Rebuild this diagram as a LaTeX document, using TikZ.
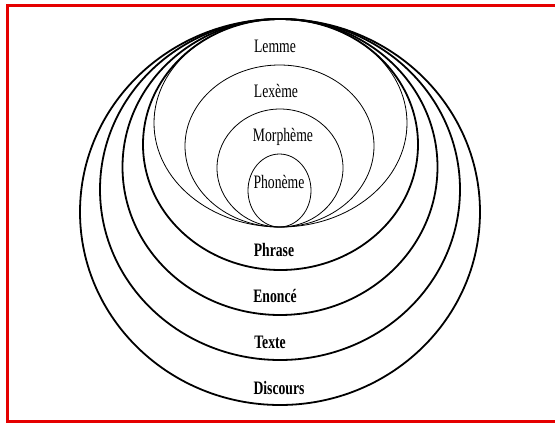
\documentclass[tikz,border=0pt]{standalone}
\usepackage{fontspec}
\setmainfont{Liberation Serif}[FakeStretch=0.72]
\usepackage{tikz}
\usetikzlibrary{positioning}

\begin{document}
\begin{tikzpicture}[x=1pt, y=-1pt,
    every node/.style={inner sep=1pt, font=\fontsize{19}{22}\selectfont},
    thinring/.style={line width=0.8pt},
    thickring/.style={line width=1.8pt},
    outerlbl/.style={font=\fontsize{19}{22}\selectfont\bfseries}]
  \useasboundingbox (0,0) rectangle (555,424);
  % frame (open on the right)
  \draw[red!90!black, line width=3pt] (555,5) -- (7.5,5) -- (7.5,421.5) -- (555,421.5);
  % outer rings
  \draw[thickring] (280,212) ellipse [x radius=200, y radius=193];
  \draw[thickring] (280,189.5) ellipse [x radius=180, y radius=170.5];
  \draw[thickring] (280,167) ellipse [x radius=157.5, y radius=148];
  \draw[thickring] (280.5,144.5) ellipse [x radius=137.5, y radius=125.5];
  % inner rings
  \draw[thinring] (280.5,123) ellipse [x radius=126.5, y radius=104];
  \draw[thinring] (279.5,146) ellipse [x radius=94.5, y radius=81];
  \draw[thinring] (280,168) ellipse [x radius=63, y radius=59];
  \draw[thinring] (279.5,190.5) ellipse [x radius=31.5, y radius=36.5];
  % labels
  \node (lemme) at (275,46) {Lemme};
  \node (lexeme) at (276,91) {Lexème};
  \node (morpheme) at (283,137) {Morphème};
  \node (phoneme) at (279,182) {Phonème};
  \node[outerlbl] (phrase) at (274,250) {Phrase};
  \node[outerlbl] (enonce) at (275,296) {Enoncé};
  \node[outerlbl] (texte) at (270,342) {Texte};
  \node[outerlbl] (discours) at (279,388) {Discours};
\end{tikzpicture}
\end{document}
